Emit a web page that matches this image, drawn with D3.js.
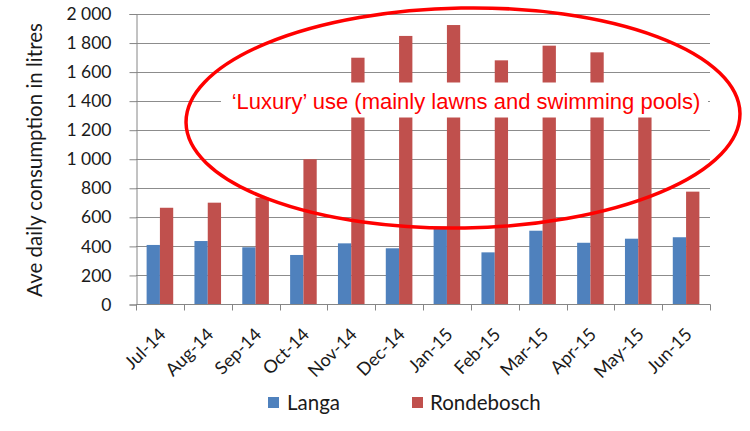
<!DOCTYPE html>
<html><head><meta charset="utf-8">
<script src="https://cdn.jsdelivr.net/npm/d3@7"></script>
<style>body{margin:0;background:#fff}svg{display:block}</style>
</head><body>
<script>
const months = ["Jul-14","Aug-14","Sep-14","Oct-14","Nov-14","Dec-14","Jan-15","Feb-15","Mar-15","Apr-15","May-15","Jun-15"];
const langa = [410,437,394,341,421,387,535,359,508,425,453,463];
const rondebosch = [666,701,735,1000,1699,1849,1924,1681,1782,1736,1450,777];
const yTicks = [0,200,400,600,800,1000,1200,1400,1600,1800,2000];
const seriesNames = ["Langa","Rondebosch"];
const colors = ["#4F81BD","#C0504D"];
const annotation = "‘Luxury’ use (mainly lawns and swimming pools)";

const W=750,H=431;
const FONT="Lato, 'Open Sans', sans-serif";
const svg=d3.select("body").append("svg").attr("width",W).attr("height",H);
const x=d3.scaleBand().domain(months).range([136,710]).padding(0);
const y=d3.scaleLinear().domain([0,2000]).range([304.5,14]);
const fmt=v=>d3.format(",")(v).replace(/,/g," ");

// gridlines
svg.append("g").selectAll("line").data(yTicks.filter(d=>d>0)).join("line")
 .attr("x1",136).attr("x2",710).attr("y1",d=>Math.round(y(d))+0.5).attr("y2",d=>Math.round(y(d))+0.5)
 .attr("stroke","#8c8c8c").attr("stroke-width",1);

// bars
const bw=x.bandwidth(), barW=bw*0.278, off=(bw-2*barW)/2;
[langa,rondebosch].forEach((vals,i)=>{
 svg.append("g").selectAll("rect").data(vals).join("rect")
  .attr("x",(d,j)=>x(months[j])+off+i*barW).attr("width",barW)
  .attr("y",d=>y(d)).attr("height",d=>y(0)-y(d)).attr("fill",colors[i]);
});

// y axis
const ya=svg.append("g").attr("transform","translate(136.5,0)")
 .call(d3.axisLeft(y).tickValues(yTicks).tickFormat(fmt).tickSize(7).tickPadding(18));
ya.select(".domain").attr("stroke","#868686");
ya.selectAll(".tick line").attr("stroke","#868686");
ya.selectAll(".tick text").attr("font-family",FONT).attr("font-size",17.5).attr("fill","#1a1a1a");

// x axis
const xa=svg.append("g").attr("transform","translate(0,304.5)");
xa.append("line").attr("x1",136).attr("x2",710.5).attr("stroke","#868686");
const bounds=months.map(m=>x(m)).concat([710]);
xa.selectAll("line.t").data(bounds).join("line").attr("class","t")
 .attr("x1",d=>Math.round(d)+0.5).attr("x2",d=>Math.round(d)+0.5).attr("y1",0).attr("y2",6).attr("stroke","#868686");
xa.selectAll("text").data(months).join("text")
 .attr("transform",d=>`translate(${x(d)+bw/2+7},${31}) rotate(-45)`)
 .attr("text-anchor","end")
 .attr("font-family",FONT).attr("font-size",18).attr("fill","#1a1a1a").text(d=>d);

// y title
svg.append("text").attr("transform","translate(42,160) rotate(-90)").attr("text-anchor","middle")
 .attr("font-family",FONT).attr("font-size",20.5).attr("fill","#1a1a1a")
 .text("Ave daily consumption in litres");

// legend
const lg=[{x:268,tx:287},{x:412,tx:430}];
seriesNames.forEach((n,i)=>{
 svg.append("rect").attr("x",lg[i].x).attr("y",397).attr("width",11).attr("height",11).attr("fill",colors[i]);
 svg.append("text").attr("x",lg[i].tx).attr("y",410).attr("font-family",FONT)
  .attr("font-size",20.5).attr("fill","#1a1a1a").text(n);
});

// annotation
svg.append("rect").attr("x",221).attr("y",82.5).attr("width",487).attr("height",35).attr("fill","#fff");
svg.append("text").attr("x",466).attr("y",108.5).attr("text-anchor","middle")
 .attr("font-family","'Liberation Sans', Arial, sans-serif").attr("font-size",22).attr("fill","#ff0000").text(annotation);
svg.append("ellipse").attr("cx",463).attr("cy",118).attr("rx",277).attr("ry",110)
 .attr("transform","rotate(-1,463,118)")
 .attr("fill","none").attr("stroke","#ff0000").attr("stroke-width",3.5);
</script>
</body></html>
